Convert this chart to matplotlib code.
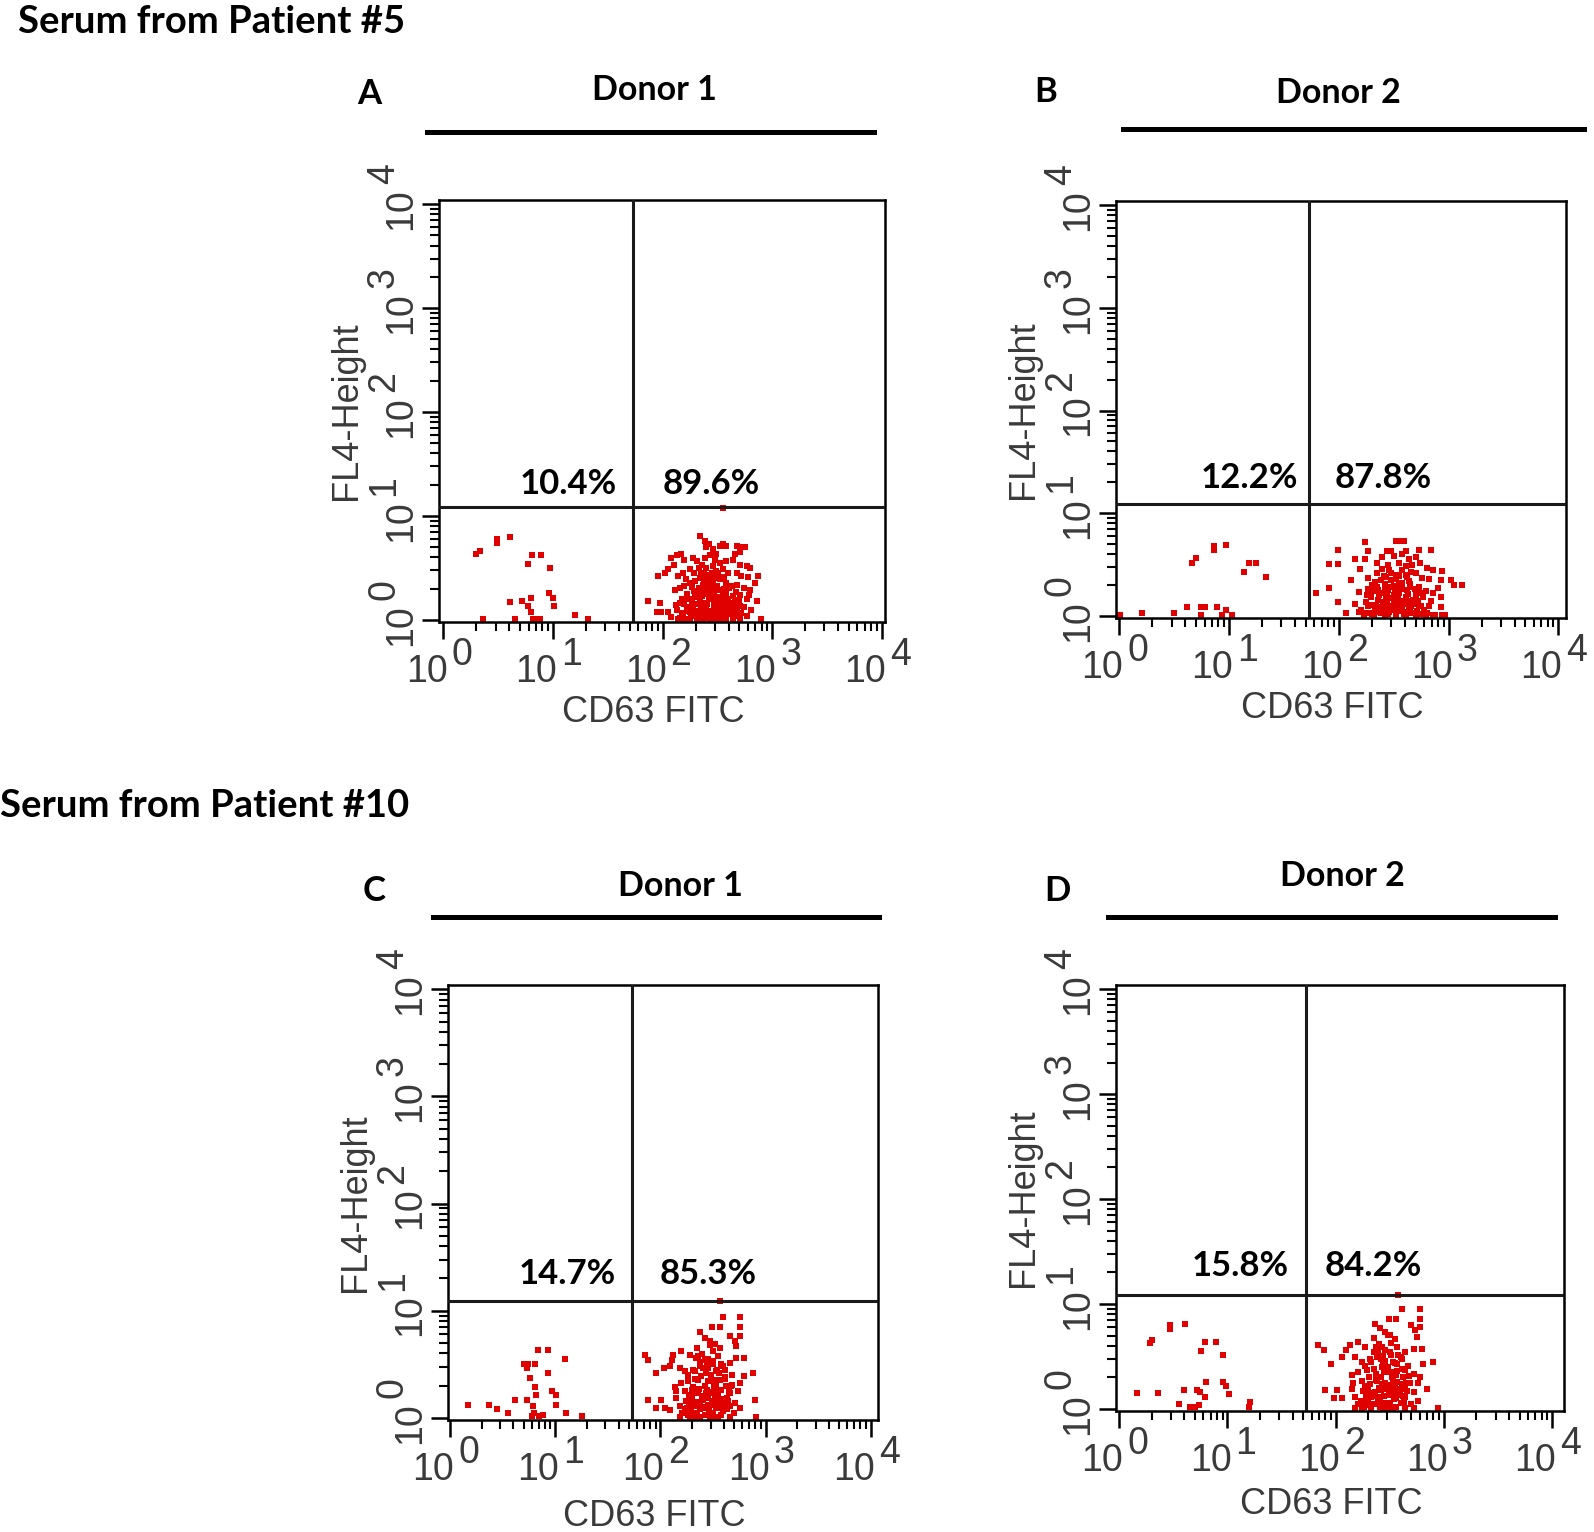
import numpy as np
import matplotlib
matplotlib.use("Agg")
import matplotlib.pyplot as plt
from matplotlib.lines import Line2D
from matplotlib.ticker import LogLocator, NullFormatter

plt.rcParams['font.family'] = ['Liberation Sans', 'DejaVu Sans']

# --- DATA (log10 CD63 FITC, log10 FL4-Height) ---
# events left of the CD63 gate
A_neg = [(0.49, 0.78), (0.49, 0.74), (0.61, 0.80), (0.33, 0.66), (0.30, 0.63), (0.81, 0.62), (0.89, 0.62),
         (0.77, 0.54), (0.97, 0.50), (0.61, 0.17), (0.72, 0.18), (0.80, 0.21), (0.77, 0.13), (0.80, 0.08),
         (0.96, 0.26), (1.00, 0.21), (1.01, 0.13), (0.65, 0.01), (0.36, 0.01), (0.82, 0.01), (0.85, 0.01),
         (0.88, 0.01), (1.20, 0.05), (1.32, 0.01)]
# events right of the CD63 gate
A_pos = [(2.34, 0.81), (2.39, 0.76), (2.42, 0.73), (2.40, 0.70), (2.46, 0.68), (2.49, 0.63), (2.52, 0.71),
         (2.55, 0.73), (2.58, 0.71), (2.68, 0.71), (2.72, 0.70), (2.71, 0.65), (2.66, 0.63), (2.75, 0.70),
         (2.08, 0.60), (2.13, 0.62), (2.17, 0.63), (2.20, 0.58), (2.28, 0.60), (2.31, 0.57), (2.39, 0.60),
         (2.43, 0.62), (2.48, 0.58), (2.52, 0.55), (2.58, 0.57), (2.64, 0.58), (2.71, 0.53), (2.77, 0.52),
         (2.80, 0.50), (2.10, 0.53), (2.05, 0.49), (2.02, 0.45), (1.96, 0.42), (2.14, 0.42), (2.19, 0.45),
         (2.25, 0.49), (2.33, 0.50), (2.36, 0.53), (2.40, 0.50), (2.46, 0.52), (2.49, 0.47), (2.55, 0.49),
         (2.60, 0.45), (2.68, 0.45), (2.72, 0.42), (2.78, 0.41), (2.87, 0.42), (2.11, 0.29), (2.16, 0.31),
         (2.20, 0.33), (2.25, 0.36), (2.30, 0.37), (2.33, 0.31), (2.37, 0.34), (2.42, 0.37), (2.46, 0.36),
         (2.52, 0.39), (2.58, 0.36), (2.63, 0.33), (2.68, 0.34), (2.74, 0.31), (2.80, 0.29), (2.84, 0.36),
         (2.31, 0.26), (2.36, 0.23), (2.43, 0.26), (2.49, 0.29), (2.58, 0.26), (2.64, 0.23), (2.71, 0.24),
         (2.77, 0.20), (2.86, 0.18), (1.87, 0.18), (1.98, 0.16), (2.16, 0.16), (2.23, 0.20), (2.28, 0.15),
         (2.37, 0.16), (2.46, 0.20), (2.52, 0.16), (2.57, 0.18), (2.64, 0.15), (2.71, 0.13), (1.95, 0.08),
         (1.99, 0.08), (2.05, 0.08), (2.13, 0.10), (2.19, 0.07), (2.25, 0.08), (2.30, 0.04), (2.36, 0.07),
         (2.40, 0.10), (2.45, 0.05), (2.49, 0.08), (2.54, 0.04), (2.58, 0.07), (2.64, 0.04), (2.72, 0.07),
         (2.77, 0.04), (2.14, 0.01), (2.20, 0.01), (2.25, 0.01), (2.31, 0.01), (2.37, 0.01), (2.43, 0.01),
         (2.48, 0.01), (2.52, 0.01), (2.58, 0.01), (2.64, 0.01), (2.71, 0.01), (2.90, 0.01), (2.16, 0.02),
         (2.42, 0.02), (2.49, 0.02), (2.36, 0.02), (2.25, 0.20), (2.30, 0.22), (2.40, 0.25), (2.45, 0.22),
         (2.50, 0.12), (2.55, 0.10), (2.35, 0.12), (2.42, 0.05), (2.28, 0.10), (2.33, 0.15), (2.45, 0.30),
         (2.50, 0.33), (2.55, 0.25), (2.60, 0.12), (2.62, 0.06), (2.40, 0.40), (2.35, 0.45), (2.45, 0.45),
         (2.38, 0.35), (2.55, 1.08), (2.18, 0.05), (2.22, 0.12), (2.26, 0.04), (2.29, 0.28), (2.32, 0.09),
         (2.34, 0.19), (2.38, 0.07), (2.39, 0.28), (2.41, 0.15), (2.44, 0.09), (2.47, 0.14), (2.47, 0.25),
         (2.51, 0.07), (2.51, 0.22), (2.53, 0.29), (2.56, 0.14), (2.57, 0.03), (2.60, 0.20), (2.61, 0.31),
         (2.63, 0.09), (2.66, 0.17), (2.67, 0.27), (2.69, 0.04), (2.70, 0.19), (2.74, 0.12), (2.22, 0.25),
         (2.27, 0.32), (2.34, 0.40), (2.43, 0.43), (2.51, 0.45), (2.56, 0.41), (2.29, 0.45), (2.21, 0.39),
         (2.18, 0.20), (2.12, 0.14), (2.08, 0.03), (2.81, 0.10), (2.79, 0.24), (2.45, 0.35), (2.36, 0.28),
         (2.24, 0.09), (2.27, 0.17), (2.32, 0.03), (2.35, 0.24), (2.39, 0.12), (2.42, 0.21), (2.44, 0.03),
         (2.47, 0.33), (2.50, 0.16), (2.53, 0.12), (2.54, 0.19), (2.56, 0.30), (2.59, 0.09), (2.62, 0.16),
         (2.65, 0.12), (2.68, 0.08), (2.20, 0.15), (2.41, 0.32), (2.48, 0.40), (2.38, 0.45)]

B_neg = [(0.86, 0.68), (0.86, 0.64), (0.97, 0.69), (0.70, 0.56), (0.66, 0.52), (1.18, 0.52), (1.25, 0.52),
         (1.14, 0.43), (1.34, 0.38), (0.62, 0.09), (0.74, 0.09), (0.78, 0.09), (0.89, 0.09), (0.97, 0.06),
         (0.01, 0.01), (0.21, 0.03), (0.50, 0.03), (0.74, 0.01), (0.94, 0.01), (1.03, 0.01)]
B_pos = [(2.24, 0.72), (2.52, 0.73), (2.56, 0.73), (2.59, 0.73), (1.99, 0.64), (2.27, 0.63), (2.44, 0.63),
         (2.48, 0.63), (2.61, 0.63), (2.73, 0.64), (2.84, 0.64), (1.91, 0.51), (1.99, 0.51), (2.15, 0.55),
         (2.24, 0.55), (2.39, 0.57), (2.50, 0.58), (2.58, 0.60), (2.64, 0.55), (2.70, 0.57), (2.19, 0.46),
         (2.35, 0.52), (2.45, 0.50), (2.55, 0.52), (2.61, 0.49), (2.67, 0.50), (2.74, 0.52), (2.80, 0.47),
         (2.86, 0.45), (2.94, 0.44), (2.11, 0.35), (2.27, 0.37), (2.35, 0.42), (2.41, 0.39), (2.48, 0.42),
         (2.55, 0.39), (2.61, 0.40), (2.70, 0.42), (2.76, 0.37), (2.82, 0.36), (2.93, 0.35), (3.02, 0.35),
         (3.05, 0.30), (3.12, 0.30), (1.91, 0.27), (1.79, 0.22), (2.18, 0.23), (2.27, 0.26), (2.35, 0.28),
         (2.42, 0.31), (2.50, 0.29), (2.58, 0.26), (2.65, 0.31), (2.73, 0.28), (2.79, 0.24), (2.90, 0.27),
         (2.93, 0.18), (1.99, 0.14), (2.29, 0.18), (2.36, 0.16), (2.44, 0.19), (2.52, 0.15), (2.61, 0.18),
         (2.68, 0.16), (2.77, 0.18), (2.27, 0.10), (2.33, 0.08), (2.41, 0.10), (2.48, 0.06), (2.56, 0.10),
         (2.64, 0.08), (2.73, 0.10), (2.82, 0.10), (2.93, 0.09), (2.07, 0.03), (2.18, 0.04), (2.24, 0.03),
         (2.30, 0.02), (2.38, 0.03), (2.45, 0.02), (2.52, 0.03), (2.59, 0.02), (2.67, 0.03), (2.74, 0.02),
         (2.80, 0.03), (2.86, 0.01), (2.94, 0.01), (2.23, 0.01), (2.32, 0.01), (2.42, 0.01), (2.52, 0.01),
         (2.61, 0.01), (2.70, 0.01), (2.79, 0.01), (2.88, 0.01), (2.97, 0.01), (2.40, 0.22), (2.45, 0.25),
         (2.50, 0.20), (2.55, 0.22), (2.60, 0.12), (2.50, 0.12), (2.40, 0.14), (2.35, 0.06), (2.45, 0.10),
         (2.55, 0.05), (2.62, 0.25), (2.48, 0.35), (2.53, 0.40), (2.65, 0.05), (2.70, 0.20), (2.38, 0.35),
         (2.30, 0.30), (2.58, 0.32), (2.20, 0.06), (2.25, 0.14), (2.28, 0.03), (2.31, 0.24), (2.34, 0.11),
         (2.37, 0.20), (2.40, 0.05), (2.42, 0.27), (2.44, 0.14), (2.47, 0.09), (2.49, 0.17), (2.51, 0.26),
         (2.53, 0.08), (2.55, 0.32), (2.57, 0.15), (2.60, 0.04), (2.63, 0.21), (2.64, 0.34), (2.66, 0.10),
         (2.69, 0.26), (2.71, 0.05), (2.72, 0.15), (2.76, 0.22), (2.78, 0.06), (2.84, 0.15), (2.33, 0.33),
         (2.39, 0.46), (2.46, 0.45), (2.58, 0.45), (2.66, 0.43), (2.86, 0.22), (2.15, 0.12), (2.26, 0.20),
         (2.30, 0.11), (2.33, 0.04), (2.36, 0.25), (2.39, 0.09), (2.43, 0.18), (2.46, 0.04), (2.48, 0.28),
         (2.51, 0.13), (2.54, 0.17), (2.56, 0.27), (2.58, 0.09), (2.62, 0.15), (2.65, 0.28), (2.68, 0.12),
         (2.72, 0.25), (2.75, 0.10), (2.43, 0.38), (2.52, 0.36), (2.62, 0.38)]

C_neg = [(0.84, 0.63), (0.93, 0.63), (1.09, 0.55), (0.70, 0.50), (0.74, 0.50), (0.81, 0.50), (0.73, 0.47),
         (0.76, 0.37), (0.93, 0.42), (0.81, 0.29), (0.97, 0.25), (1.01, 0.21), (0.82, 0.21), (0.62, 0.17),
         (0.73, 0.17), (0.17, 0.12), (0.37, 0.12), (0.79, 0.11), (1.01, 0.12), (0.80, 0.05), (0.78, 0.02),
         (0.85, 0.02), (0.88, 0.03), (1.10, 0.05), (1.25, 0.02), (0.55, 0.05), (0.45, 0.08)]
C_pos = [(2.60, 0.94), (2.76, 0.94), (2.49, 0.85), (2.57, 0.85), (2.76, 0.85), (2.38, 0.80), (2.42, 0.75),
         (2.47, 0.72), (2.52, 0.69), (2.57, 0.65), (2.66, 0.76), (2.71, 0.72), (2.76, 0.76), (2.72, 0.67),
         (1.85, 0.59), (1.88, 0.54), (2.12, 0.59), (2.20, 0.62), (2.11, 0.54), (2.28, 0.59), (2.34, 0.56),
         (2.42, 0.54), (2.50, 0.53), (2.58, 0.50), (2.66, 0.51), (2.72, 0.56), (2.80, 0.56), (2.03, 0.47),
         (1.96, 0.42), (2.09, 0.48), (2.19, 0.47), (2.23, 0.44), (2.31, 0.45), (2.38, 0.48), (2.45, 0.47),
         (2.53, 0.44), (2.61, 0.45), (2.68, 0.40), (2.80, 0.39), (2.88, 0.42), (2.14, 0.29), (2.20, 0.33),
         (2.26, 0.34), (2.33, 0.36), (2.39, 0.39), (2.47, 0.34), (2.53, 0.31), (2.61, 0.36), (2.68, 0.31),
         (2.76, 0.33), (2.15, 0.25), (2.23, 0.25), (2.30, 0.26), (2.36, 0.23), (2.44, 0.26), (2.50, 0.23),
         (2.58, 0.26), (2.66, 0.23), (2.74, 0.25), (1.88, 0.17), (2.01, 0.17), (2.15, 0.19), (2.28, 0.17),
         (2.38, 0.15), (2.45, 0.19), (2.55, 0.15), (2.63, 0.19), (2.71, 0.14), (2.90, 0.17), (1.96, 0.09),
         (2.04, 0.09), (2.09, 0.07), (2.19, 0.11), (2.25, 0.09), (2.33, 0.11), (2.41, 0.09), (2.49, 0.12),
         (2.57, 0.09), (2.66, 0.11), (2.76, 0.09), (2.19, 0.01), (2.26, 0.03), (2.34, 0.01), (2.42, 0.03),
         (2.50, 0.01), (2.58, 0.03), (2.66, 0.01), (2.28, 0.01), (2.38, 0.01), (2.47, 0.01), (2.55, 0.01),
         (2.91, 0.01), (2.40, 0.20), (2.45, 0.12), (2.50, 0.05), (2.55, 0.20), (2.35, 0.05), (2.42, 0.30),
         (2.48, 0.40), (2.30, 0.20), (2.52, 0.35), (2.60, 0.06), (2.44, 0.50), (2.40, 0.60), (2.35, 0.65),
         (2.62, 0.30), (2.27, 0.12), (2.57, 1.09), (2.21, 0.05), (2.24, 0.16), (2.29, 0.06), (2.31, 0.29),
         (2.33, 0.15), (2.36, 0.35), (2.38, 0.08), (2.41, 0.17), (2.43, 0.42), (2.46, 0.06), (2.47, 0.24),
         (2.49, 0.16), (2.51, 0.29), (2.53, 0.09), (2.54, 0.45), (2.56, 0.26), (2.58, 0.13), (2.61, 0.38),
         (2.63, 0.08), (2.64, 0.16), (2.67, 0.30), (2.70, 0.05), (2.45, 0.55), (2.50, 0.62), (2.38, 0.52),
         (2.55, 0.58), (2.47, 0.68), (2.33, 0.44), (2.60, 0.48), (2.26, 0.40), (2.23, 0.08), (2.27, 0.21),
         (2.32, 0.04), (2.35, 0.12), (2.37, 0.27), (2.40, 0.10), (2.43, 0.23), (2.45, 0.34), (2.48, 0.05),
         (2.50, 0.14), (2.52, 0.21), (2.55, 0.09), (2.57, 0.35), (2.59, 0.18), (2.62, 0.12), (2.65, 0.24),
         (2.41, 0.47), (2.50, 0.50), (2.56, 0.42), (2.36, 0.58)]

D_neg = [(0.47, 0.80), (0.47, 0.76), (0.61, 0.81), (0.30, 0.66), (0.28, 0.63), (0.79, 0.64), (0.89, 0.64),
         (0.76, 0.55), (0.96, 0.51), (0.16, 0.15), (0.36, 0.15), (0.60, 0.18), (0.72, 0.18), (0.75, 0.16),
         (0.79, 0.11), (0.80, 0.26), (0.96, 0.26), (0.99, 0.22), (1.01, 0.14), (1.21, 0.07), (0.65, 0.02),
         (0.70, 0.02), (1.20, 0.02), (0.55, 0.05), (0.74, 0.04)]
D_pos = [(2.61, 0.95), (2.78, 0.95), (2.49, 0.86), (2.56, 0.86), (2.78, 0.86), (2.36, 0.81), (2.41, 0.77),
         (2.46, 0.73), (2.50, 0.70), (2.55, 0.67), (2.70, 0.80), (2.73, 0.75), (2.78, 0.78), (2.75, 0.69),
         (1.84, 0.61), (1.89, 0.56), (2.13, 0.61), (2.21, 0.64), (2.10, 0.56), (2.27, 0.59), (2.35, 0.54),
         (2.43, 0.59), (2.50, 0.54), (2.58, 0.51), (2.64, 0.54), (2.72, 0.57), (2.80, 0.57), (2.06, 0.49),
         (1.96, 0.43), (2.18, 0.49), (2.24, 0.45), (2.32, 0.48), (2.38, 0.49), (2.46, 0.46), (2.53, 0.45),
         (2.61, 0.48), (2.67, 0.41), (2.81, 0.43), (2.90, 0.45), (2.15, 0.32), (2.21, 0.35), (2.29, 0.37),
         (2.35, 0.38), (2.43, 0.40), (2.49, 0.35), (2.56, 0.32), (2.64, 0.37), (2.72, 0.33), (2.78, 0.30),
         (2.16, 0.25), (2.24, 0.27), (2.32, 0.24), (2.38, 0.27), (2.46, 0.25), (2.53, 0.27), (2.61, 0.24),
         (2.69, 0.25), (2.76, 0.25), (1.90, 0.18), (2.01, 0.18), (2.15, 0.19), (2.29, 0.17), (2.36, 0.16),
         (2.46, 0.19), (2.55, 0.16), (2.64, 0.19), (2.72, 0.16), (2.84, 0.19), (1.98, 0.10), (2.06, 0.10),
         (2.18, 0.11), (2.26, 0.08), (2.33, 0.11), (2.41, 0.08), (2.49, 0.13), (2.56, 0.10), (2.64, 0.11),
         (2.76, 0.08), (2.18, 0.01), (2.26, 0.02), (2.33, 0.01), (2.41, 0.02), (2.49, 0.01), (2.56, 0.02),
         (2.64, 0.01), (2.72, 0.01), (2.24, 0.01), (2.44, 0.01), (2.53, 0.01), (2.95, 0.01), (2.40, 0.20),
         (2.45, 0.12), (2.50, 0.05), (2.55, 0.20), (2.35, 0.05), (2.42, 0.30), (2.48, 0.40), (2.30, 0.20),
         (2.52, 0.35), (2.60, 0.06), (2.44, 0.50), (2.40, 0.62), (2.35, 0.68), (2.62, 0.30), (2.28, 0.12),
         (2.58, 1.09), (2.21, 0.05), (2.25, 0.17), (2.30, 0.07), (2.31, 0.30), (2.34, 0.15), (2.37, 0.33),
         (2.39, 0.09), (2.42, 0.18), (2.44, 0.43), (2.46, 0.06), (2.48, 0.23), (2.50, 0.17), (2.52, 0.30),
         (2.54, 0.09), (2.55, 0.44), (2.57, 0.26), (2.59, 0.13), (2.61, 0.38), (2.63, 0.07), (2.66, 0.17),
         (2.68, 0.31), (2.70, 0.05), (2.46, 0.56), (2.51, 0.63), (2.39, 0.53), (2.57, 0.59), (2.48, 0.70),
         (2.33, 0.45), (2.60, 0.49), (2.27, 0.41), (2.23, 0.08), (2.27, 0.22), (2.32, 0.04), (2.35, 0.12),
         (2.37, 0.28), (2.40, 0.11), (2.43, 0.24), (2.45, 0.35), (2.48, 0.06), (2.50, 0.14), (2.52, 0.22),
         (2.55, 0.10), (2.57, 0.36), (2.59, 0.19), (2.62, 0.12), (2.65, 0.25), (2.42, 0.48), (2.51, 0.51),
         (2.57, 0.43), (2.37, 0.59)]

# quadrant percentages (left, right)
A_pct = ('10.4%', '89.6%')
B_pct = ('12.2%', '87.8%')
C_pct = ('14.7%', '85.3%')
D_pct = ('15.8%', '84.2%')

GATE_X = 10 ** 1.73
GATE_Y = 10 ** 1.09
DECADES = [0, 1, 2, 3, 4]

# --- LAYOUT (pixels of a 1594 x 1532 canvas) ---
W, H = 1594, 1532
K = 0.72  # px -> pt at dpi 100
def fx(px):
    return px / W
def fy(py):
    return 1 - py / H

panels = [
    dict(letter='A', donor='Donor 1', neg=A_neg, pos=A_pos, pct=A_pct, xlim=(-0.04, 4.03),
         box=(439, 200, 885, 622), letter_xy=(369, 94), donor_xy=(654, 90), rule=(427, 874, 132),
         pct_off=(-16, 30, 23), xlab_drop=100),
    dict(letter='B', donor='Donor 2', neg=B_neg, pos=B_pos, pct=B_pct, xlim=(-0.03, 4.07),
         box=(1116, 201, 1566, 618), letter_xy=(1046, 92), donor_xy=(1338, 93), rule=(1123, 1584, 129),
         pct_off=(-11, 25, 26), xlab_drop=100),
    dict(letter='C', donor='Donor 1', neg=C_neg, pos=C_pos, pct=C_pct, xlim=(-0.02, 4.07),
         box=(448, 985, 878, 1420), letter_xy=(374, 891), donor_xy=(680, 886), rule=(433, 879, 917),
         pct_off=(-16, 28, 27), xlab_drop=106),
    dict(letter='D', donor='Donor 2', neg=D_neg, pos=D_pos, pct=D_pct, xlim=(-0.03, 4.11),
         box=(1116, 985, 1564, 1411), letter_xy=(1057, 891), donor_xy=(1342, 876), rule=(1108, 1555, 917),
         pct_off=(-18, 18, 29), xlab_drop=103),
]

BOLD = dict(family=['Lato', 'DejaVu Sans'], weight='bold', color='black')
AXIS_GREY = '#3a3a3a'
TICKFONT = dict(family=['Liberation Sans', 'DejaVu Sans'], fontsize=27, color=AXIS_GREY,
                rotation_mode='anchor', va='baseline', textcoords='offset points', annotation_clip=False)
DOT_RED = '#e00000'

fig = plt.figure(figsize=(W / 100, H / 100), dpi=100)

fig.text(fx(18), fy(22), 'Serum from Patient #5', fontsize=27.5, ha='left', va='center', **BOLD)
fig.text(fx(0), fy(806), 'Serum from Patient #10', fontsize=27.5, ha='left', va='center', **BOLD)

for p in panels:
    l, t, r, b = p['box']
    ax = fig.add_axes([fx(l), fy(b), (r - l) / W, (b - t) / H])

    for pts in (p['neg'], p['pos']):
        lx = np.array([q[0] for q in pts])
        ly = np.array([q[1] for q in pts])
        ax.scatter(10 ** lx, 10 ** ly, s=15, marker='s', color=DOT_RED, linewidths=0, zorder=2)

    ax.set_xscale('log')
    ax.set_yscale('log')
    ax.set_xlim(10 ** p['xlim'][0], 10 ** p['xlim'][1])
    ax.set_ylim(10 ** -0.02, 10 ** 4.04)

    # quadrant gates
    ax.axvline(GATE_X, color='#1a1a1a', lw=2.2, zorder=3)
    ax.axhline(GATE_Y, color='#1a1a1a', lw=2.2, zorder=3)

    ticks = [10 ** d for d in DECADES]
    ax.set_xticks(ticks)
    ax.set_yticks(ticks)
    for axis in (ax.xaxis, ax.yaxis):
        axis.set_minor_locator(LogLocator(base=10, subs=range(2, 10)))
        axis.set_minor_formatter(NullFormatter())
    ax.tick_params(which='major', length=12, width=1.8, direction='out', color='black',
                   labelbottom=False, labelleft=False)
    ax.tick_params(which='minor', length=6.5, width=1.5, direction='out', color='black')
    for s in ax.spines.values():
        s.set_linewidth(1.8)

    # decade labels: "10" with a full-size raised exponent
    for d, v in zip(DECADES, ticks):
        ax.annotate('10', (v, 0), xycoords=('data', 'axes fraction'), xytext=(4 * K, -60 * K),
                    ha='right', **TICKFONT)
        ax.annotate(str(d), (v, 0), xycoords=('data', 'axes fraction'), xytext=(8 * K, -43 * K),
                    ha='left', **TICKFONT)
        ax.annotate('10', (0, v), xycoords=('axes fraction', 'data'), xytext=(-28 * K, 16 * K),
                    ha='right', rotation=90, **TICKFONT)
        ax.annotate(str(d), (0, v), xycoords=('axes fraction', 'data'), xytext=(-45 * K, 20 * K),
                    ha='left', rotation=90, **TICKFONT)

    ax.annotate('CD63 FITC', (0.5, 0), xycoords='axes fraction', xytext=(-9 * K, -p['xlab_drop'] * K),
                textcoords='offset points', ha='center', va='baseline', fontsize=26, color=AXIS_GREY,
                annotation_clip=False)
    ax.annotate('FL4-Height', (0, 0.5), xycoords='axes fraction', xytext=(-83 * K, 0),
                textcoords='offset points', ha='center', va='baseline', rotation=90,
                rotation_mode='anchor', fontsize=26, color=AXIS_GREY, annotation_clip=False)

    # percentages above the horizontal gate
    dl, dr, up = p['pct_off']
    ax.annotate(p['pct'][0], (GATE_X, GATE_Y), xytext=(dl * K, up * K), textcoords='offset points',
                ha='right', va='center', fontsize=25, **BOLD)
    ax.annotate(p['pct'][1], (GATE_X, GATE_Y), xytext=(dr * K, up * K), textcoords='offset points',
                ha='left', va='center', fontsize=25, **BOLD)

    fig.text(fx(p['letter_xy'][0]), fy(p['letter_xy'][1]), p['letter'], fontsize=25,
             ha='center', va='center', **BOLD)
    fig.text(fx(p['donor_xy'][0]), fy(p['donor_xy'][1]), p['donor'], fontsize=24.5,
             ha='center', va='center', **BOLD)
    x0, x1, yr = p['rule']
    fig.add_artist(Line2D([fx(x0), fx(x1)], [fy(yr), fy(yr)], transform=fig.transFigure,
                          color='black', lw=3.6))

fig.savefig('out.png', dpi=100)
